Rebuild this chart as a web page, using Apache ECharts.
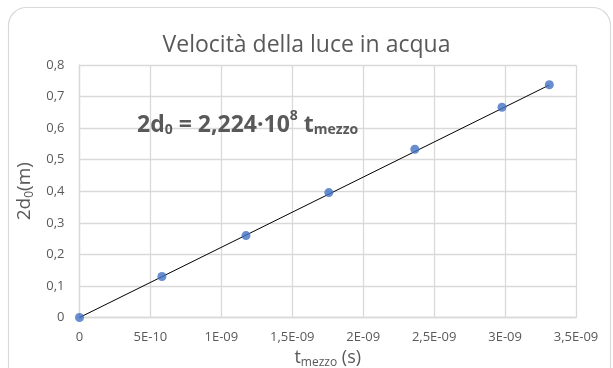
<!DOCTYPE html>
<html><head><meta charset="utf-8">
<script src="https://cdn.jsdelivr.net/npm/echarts@6/dist/echarts.min.js"></script>
<style>html,body{margin:0;padding:0;background:#fff}#c{width:613px;height:368px}</style>
</head><body><div id="c"></div>
<script>
const tValues = [0, 5.81e-10, 1.1735e-9, 1.7577e-9, 2.364e-9, 2.978e-9, 3.312e-9];
const dValues = [0, 0.1298, 0.2596, 0.3957, 0.5331, 0.666, 0.7376];
const slope = 2.224e8;
const xTickLabels = ['0','5E-10','1E-09','1,5E-09','2E-09','2,5E-09','3E-09','3,5E-09'];
const yTickLabels = ['0','0,1','0,2','0,3','0,4','0,5','0,6','0,7','0,8'];

const points = tValues.map((t,i)=>[t, dValues[i]]);
const tMax = tValues[tValues.length-1];
const fitLine = [[0,0],[tMax, slope*tMax]];
const FONT = '"Open Sans", "Liberation Sans", sans-serif';
const GRAY = '#595959';
const chart = echarts.init(document.getElementById('c'));
chart.setOption({
  animation:false,
  backgroundColor:'#fff',
  title:{text:'Velocità della luce in acqua', left:'center', top:29,
    textStyle:{fontFamily:FONT, fontSize:23, fontWeight:'normal', color:GRAY}},
  graphic:[
    {type:'rect', shape:{x:8.5,y:7.5,width:602,height:380,r:18}, style:{fill:'none',stroke:'#d9d9d9',lineWidth:1.2}, z:-1},
    {type:'text', left:137, top:101, z:10, style:{rich:{
        b:{fontFamily:FONT,fontSize:23,fontWeight:'bold',fill:GRAY,lineHeight:36,verticalAlign:'bottom'},
        sub:{fontFamily:FONT,fontSize:14,fontWeight:'bold',fill:GRAY,lineHeight:12,verticalAlign:'bottom'},
        sup:{fontFamily:FONT,fontSize:14,fontWeight:'bold',fill:GRAY,lineHeight:14,verticalAlign:'top',padding:[8,0,0,0]}
      }, text:'{b|2d}{sub|0}{b| = 2,224·10}{sup|8}{b| t}{sub|mezzo}'}}
  ],
  grid:{left:79.5, right:37, top:65, bottom:50.5, outerBoundsMode:'none', containLabel:false},
  xAxis:{type:'value', min:0, max:3.5e-9, interval:5e-10,
    axisLine:{show:true, lineStyle:{color:'#d9d9d9', width:1.3}},
    axisTick:{show:false},
    splitLine:{show:true, lineStyle:{color:'#d9d9d9', width:1.3}},
    axisLabel:{margin:13, color:GRAY, fontFamily:FONT, fontSize:13,
      formatter:v=>xTickLabels[Math.round(v/5e-10)]},
    name:'{t|t}{s|mezzo}{t| (s)}', nameLocation:'middle', nameGap:29,
    nameTextStyle:{rich:{
      t:{fontFamily:FONT,fontSize:18,color:GRAY},
      s:{fontFamily:FONT,fontSize:12,color:GRAY,padding:[10,0,0,0]}}}
  },
  yAxis:{type:'value', min:0, max:0.8, interval:0.1,
    axisLine:{show:true, lineStyle:{color:'#d9d9d9', width:1.3}},
    axisTick:{show:false},
    splitLine:{show:true, lineStyle:{color:'#d9d9d9', width:1.3}},
    axisLabel:{margin:15, color:GRAY, fontFamily:FONT, fontSize:13,
      formatter:v=>yTickLabels[Math.round(v*10)]},
    name:'{t|2d}{s|0}{t|(m)}', nameLocation:'middle', nameGap:44, nameRotate:90,
    nameTextStyle:{rich:{
      t:{fontFamily:FONT,fontSize:19,color:GRAY},
      s:{fontFamily:FONT,fontSize:12,color:GRAY,padding:[10,0,0,0]}}}
  },
  series:[
    {type:'line', data:fitLine, symbol:'none', lineStyle:{color:'#000', width:1}, z:3, silent:true},
    {type:'scatter', data:points, symbol:'circle', symbolSize:9, itemStyle:{color:'#4472C4'}, z:4}
  ]
});
</script></body></html>
